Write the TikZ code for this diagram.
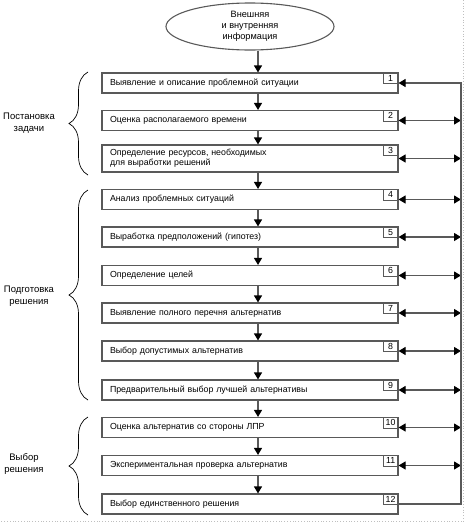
\documentclass[tikz,border=0pt]{standalone}
\usepackage{fontspec}
\setmainfont{Liberation Sans}
\usetikzlibrary{arrows.meta,shapes.geometric,decorations.pathreplacing}
\definecolor{ln}{rgb}{0.35,0.35,0.35}
\tikzset{
  box/.style={draw=ln,line width=1.1pt,minimum width=296pt,minimum height=20pt,text width=280pt,inner xsep=8pt,inner ysep=0pt,align=left,font=\fontsize{8.8}{10}\selectfont},
  numbox/.style={draw=ln,line width=0.9pt,anchor=north east,minimum width=15pt,minimum height=11pt,inner sep=0pt,font=\fontsize{8.8}{9}\selectfont},
  arr/.style={draw=ln,line width=1.1pt,-{Triangle[length=7pt,width=8pt,fill=black,color=black]}},
  arrb/.style={draw=ln,line width=1.1pt,{Triangle[length=7pt,width=8pt,fill=black,color=black]}-{Triangle[length=7pt,width=8pt,fill=black,color=black]}},
  lbl/.style={align=center,font=\fontsize{9.5}{11.5}\selectfont},
  brc/.style={decorate,decoration={brace,amplitude=19pt},draw=black,line width=0.7pt}
}
\begin{document}
\begin{tikzpicture}[x=1pt,y=-1pt]
\useasboundingbox (0,0) rectangle (464,522);
\draw[gray!50,dotted,line width=0.8pt] (463.5,0) -- (463.5,521.5) -- (0,521.5);
\node[ellipse,draw=ln,line width=1.1pt,minimum width=168pt,minimum height=47pt,inner sep=0pt,align=center,font=\fontsize{9.2}{11}\selectfont] (e) at (250,26.5) {Внешняя\\и внутренняя\\информация};
\coordinate (ax) at (258,0);
\coordinate (R) at (461,0);
\node[box] (b1) at (250,83) {Выявление и описание проблемной ситуации};
\node[box] (b2) at (250,120.5) {Оценка располагаемого времени};
\node[box,minimum height=27pt] (b3) at (250,158.5) {Определение ресурсов, необходимых\\для выработки решений};
\node[box] (b4) at (250,199.5) {Анализ проблемных ситуаций};
\node[box] (b5) at (250,237) {Выработка предположений (гипотез)};
\node[box] (b6) at (250,275.5) {Определение целей};
\node[box] (b7) at (250,313) {Выявление полного перечня альтернатив};
\node[box] (b8) at (250,351) {Выбор допустимых альтернатив};
\node[box] (b9) at (250,390) {Предварительный выбор лучшей альтернативы};
\node[box] (b10) at (250,427.5) {Оценка альтернатив со стороны ЛПР};
\node[box] (b11) at (250,465.5) {Экспериментальная проверка альтернатив};
\node[box] (b12) at (250,504) {Выбор единственного решения};
\foreach \i in {1,...,12} {\node[numbox] (n\i) at (b\i.north east) {\i};}
\draw[arr] (e.south -| ax) -- (b1.north -| ax);
\foreach \a/\b in {1/2,2/3,3/4,4/5,5/6,6/7,7/8,8/9,9/10,10/11,11/12} {\draw[arr] (b\a.south -| ax) -- (b\b.north -| ax);}
\foreach \i in {2,...,11} {\draw[arrb] (b\i.east) -- (b\i.east -| R);}
\draw[arr] (b12.east) -- (b12.east -| R) -- (b1.east -| R) -- (b1.east);
\draw[brc] (88,175) -- (88,72);
\draw[brc] (88,400) -- (88,190);
\draw[brc] (88,515) -- (88,417);
\node[lbl] (l1) at (29,123) {Постановка\\задачи};
\node[lbl] (l2) at (29,296) {Подготовка\\решения};
\node[lbl] (l3) at (24,464) {Выбор\\решения};
\end{tikzpicture}
\end{document}
